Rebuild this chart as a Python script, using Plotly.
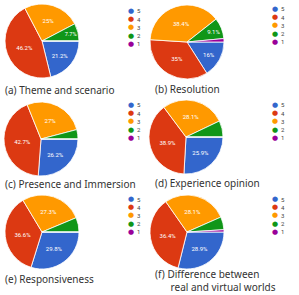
import plotly.graph_objects as go

W, H = 299, 295

labels = ["5", "4", "3", "2", "1"]
colors = ["#3366cc", "#dc3912", "#ff9900", "#109618", "#990099"]

captions = [
    "(a) Theme and scenario",
    "(b) Resolution",
    "(c) Presence and Immersion",
    "(d) Experience opinion",
    "(e) Responsiveness",
    "(f) Difference between<br>" + "\u00a0" * 6 + "real and virtual worlds",
]

theme_scenario = [21.2, 46.2, 25.0, 7.7, 0.0]
resolution = [16.0, 35.0, 38.4, 9.1, 1.5]
presence = [26.2, 42.7, 27.0, 4.1, 0.0]
experience = [25.9, 38.9, 28.1, 7.1, 0.0]
responsiveness = [29.8, 36.6, 27.3, 6.3, 0.0]
difference = [28.9, 36.4, 28.1, 5.6, 1.0]

series = [theme_scenario, resolution, presence, experience, responsiveness, difference]

# layout (pixel) positions of each panel
centers = [(42, 41), (187, 42), (41, 139), (186, 137), (42, 232), (187, 232)]
radius = 37
legend_pos = [(131, 11), (275, 9), (131, 105), (275, 105), (131, 199), (275, 199)]
caption_pos = [(3, 90), (153, 89), (3, 184), (153, 183), (3, 279), (153, 280.5)]
legend_step = 8.2


def fmt(v):
    s = f"{v:.1f}"
    if s.endswith(".0"):
        s = s[:-2]
    return s + "%"


fig = go.Figure()
annotations = []
for i, vals in enumerate(series):
    cx, cy = centers[i]
    tot = sum(vals)
    texts = [fmt(v / tot * 100) if v / tot * 100 >= 7.5 else "" for v in vals]
    fig.add_trace(go.Pie(
        labels=labels,
        values=vals,
        text=texts,
        textinfo="text",
        textposition="inside",
        insidetextorientation="horizontal",
        textfont=dict(size=6, color="white", family="Roboto"),
        marker=dict(colors=colors, line=dict(color="white", width=0.8)),
        sort=False,
        direction="clockwise",
        rotation=90,
        showlegend=False,
        hoverinfo="label+percent",
        domain=dict(
            x=[(cx - radius) / W, (cx + radius) / W],
            y=[1 - (cy + radius) / H, 1 - (cy - radius) / H],
        ),
    ))
    lx, ly = legend_pos[i]
    for j, lab in enumerate(labels):
        yy = ly + j * legend_step
        annotations.append(dict(
            x=lx / W, y=1 - yy / H, xref="paper", yref="paper",
            text="●", showarrow=False, xanchor="center", yanchor="middle",
            font=dict(size=7, color=colors[j], family="DejaVu Sans"),
        ))
        annotations.append(dict(
            x=(lx + 4) / W, y=1 - yy / H, xref="paper", yref="paper",
            text=lab, showarrow=False, xanchor="left", yanchor="middle",
            font=dict(size=6, color="#444444", family="Roboto"),
        ))
    tx, ty = caption_pos[i]
    annotations.append(dict(
        x=tx / W, y=1 - ty / H, xref="paper", yref="paper",
        text=captions[i], showarrow=False, xanchor="left", yanchor="middle",
        align="left",
        font=dict(size=10, color="#333333", family="Noto Sans"),
    ))

fig.update_layout(
    width=W, height=H,
    margin=dict(l=0, r=0, t=0, b=0),
    paper_bgcolor="white",
    plot_bgcolor="white",
    annotations=annotations,
)

fig.write_html("out.html", config={"displayModeBar": False})
